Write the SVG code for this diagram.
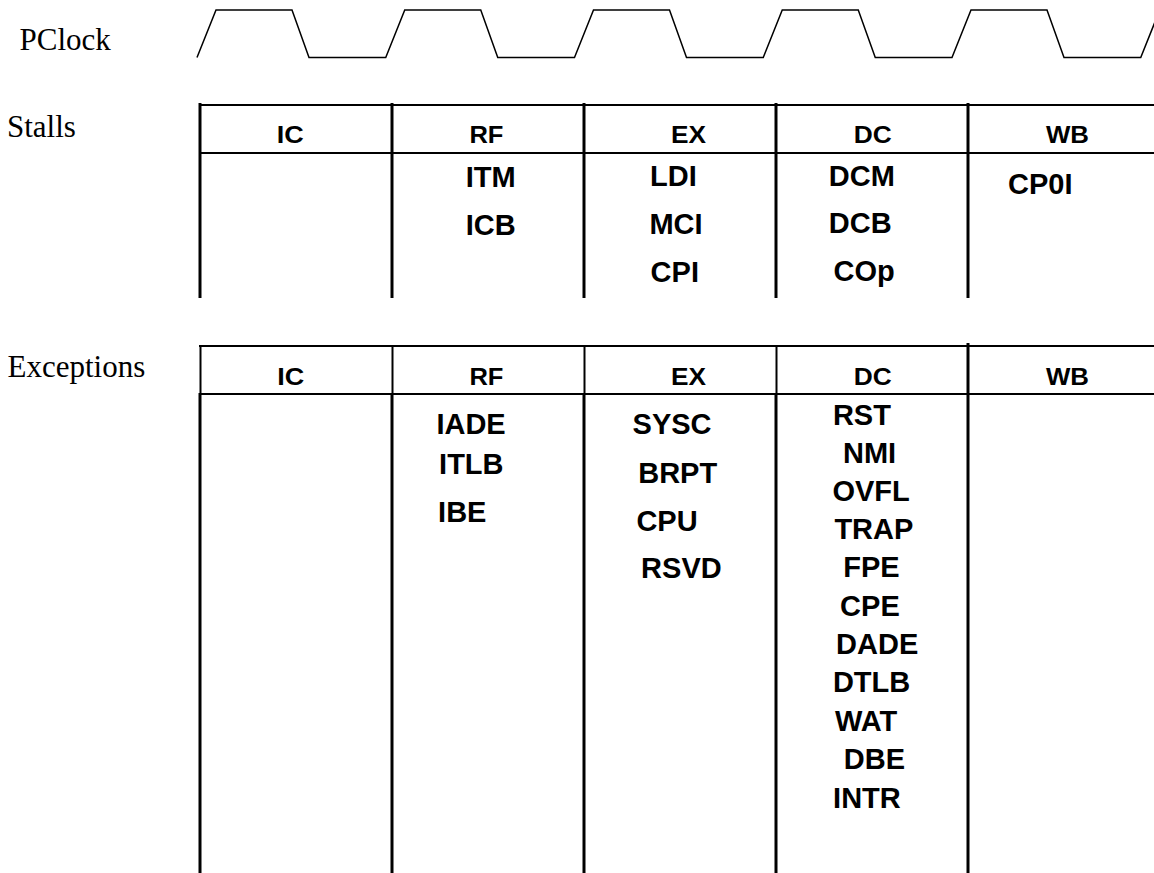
<svg xmlns="http://www.w3.org/2000/svg" width="1154" height="873" viewBox="0 0 1154 873">
<style>
  .lbl { font-family: "Liberation Serif", "Times New Roman", serif; font-size: 31px; fill: #000; }
  .hdr { font-family: "Liberation Sans", Arial, sans-serif; font-weight: bold; font-size: 24px; fill: #000; text-anchor: middle; }
  .item { font-family: "Liberation Sans", Arial, sans-serif; font-weight: bold; font-size: 29px; fill: #000; }
  .clk { fill: none; stroke: #000; stroke-width: 1.5; stroke-linejoin: miter; }
  .hl { stroke: #000; stroke-width: 2; }
  .vl { stroke: #000; stroke-width: 3; }
  .vh { stroke: #000; stroke-width: 2; }
</style>
<rect width="1154" height="873" fill="#fff"/>

<g id="labels">
  <text class="lbl" x="19.5" y="50">PClock</text>
  <text class="lbl" x="7" y="137.3">Stalls</text>
  <text class="lbl" x="7.5" y="377.3">Exceptions</text>
</g>

<g id="pclock">
  <polyline class="clk" points="197,57.5 216,10 292,10 309,57.5 385.75,57.5 404.75,10 480.75,10 497.75,57.5 574.5,57.5 593.5,10 669.5,10 686.5,57.5 763.25,57.5 782.25,10 858.25,10 875.25,57.5 952,57.5 971,10 1047,10 1064,57.5 1140.75,57.5 1159.75,10"/>
</g>

<g id="stalls-table">
  <line class="hl" x1="199" y1="105" x2="1154" y2="105"/>
  <line class="hl" x1="199" y1="153" x2="1154" y2="153"/>
  <line class="vl" x1="200" y1="103" x2="200" y2="298"/>
  <line class="vl" x1="392" y1="103" x2="392" y2="298"/>
  <line class="vl" x1="584" y1="103" x2="584" y2="298"/>
  <line class="vl" x1="776" y1="103" x2="776" y2="298"/>
  <line class="vl" x1="968" y1="103" x2="968" y2="298"/>
  <text class="hdr" x="290.3" y="143.3" textLength="27" lengthAdjust="spacingAndGlyphs">IC</text>
  <text class="hdr" x="486.4" y="143.3" textLength="34" lengthAdjust="spacingAndGlyphs">RF</text>
  <text class="hdr" x="688.5" y="143.3" textLength="35" lengthAdjust="spacingAndGlyphs">EX</text>
  <text class="hdr" x="872.8" y="143.3" textLength="38" lengthAdjust="spacingAndGlyphs">DC</text>
  <text class="hdr" x="1067.4" y="143.3" textLength="43" lengthAdjust="spacingAndGlyphs">WB</text>
</g>

<g id="stalls-RF">
  <text class="item" x="465.8" y="186.7">ITM</text>
  <text class="item" x="465.8" y="235">ICB</text>
</g>
<g id="stalls-EX">
  <text class="item" x="650" y="185.7">LDI</text>
  <text class="item" x="649.4" y="234.3">MCI</text>
  <text class="item" x="650.6" y="282.3">CPI</text>
</g>
<g id="stalls-DC">
  <text class="item" x="828.8" y="185.7">DCM</text>
  <text class="item" x="828.8" y="232.7">DCB</text>
  <text class="item" x="833.6" y="280.5">COp</text>
</g>
<g id="stalls-WB">
  <text class="item" x="1008" y="194.3">CP0I</text>
</g>

<g id="exceptions-table">
  <line class="hl" x1="199" y1="346" x2="1154" y2="346"/>
  <line class="hl" x1="199" y1="394" x2="1154" y2="394"/>
  <line class="vh" x1="200.5" y1="345" x2="200.5" y2="394"/>
  <line class="vh" x1="392.5" y1="345" x2="392.5" y2="394"/>
  <line class="vh" x1="584.5" y1="345" x2="584.5" y2="394"/>
  <line class="vh" x1="776.5" y1="345" x2="776.5" y2="394"/>
  <line class="vl" x1="968" y1="343" x2="968" y2="394"/>
  <line class="vl" x1="200" y1="393" x2="200" y2="873"/>
  <line class="vl" x1="392" y1="393" x2="392" y2="873"/>
  <line class="vl" x1="584" y1="393" x2="584" y2="873"/>
  <line class="vl" x1="776" y1="393" x2="776" y2="873"/>
  <line class="vl" x1="968" y1="393" x2="968" y2="873"/>
  <text class="hdr" x="290.8" y="385" textLength="27" lengthAdjust="spacingAndGlyphs">IC</text>
  <text class="hdr" x="486.4" y="385" textLength="34" lengthAdjust="spacingAndGlyphs">RF</text>
  <text class="hdr" x="688.5" y="385" textLength="35" lengthAdjust="spacingAndGlyphs">EX</text>
  <text class="hdr" x="872.8" y="385" textLength="38" lengthAdjust="spacingAndGlyphs">DC</text>
  <text class="hdr" x="1067.4" y="385" textLength="43" lengthAdjust="spacingAndGlyphs">WB</text>
</g>

<g id="exceptions-RF">
  <text class="item" x="436.4" y="434.3">IADE</text>
  <text class="item" x="439.1" y="474">ITLB</text>
  <text class="item" x="438.1" y="521.7">IBE</text>
</g>
<g id="exceptions-EX">
  <text class="item" x="632.6" y="434">SYSC</text>
  <text class="item" x="638.2" y="482.7">BRPT</text>
  <text class="item" x="636.4" y="530.7">CPU</text>
  <text class="item" x="641.1" y="577.7">RSVD</text>
</g>
<g id="exceptions-DC">
  <text class="item" x="832.9" y="425">RST</text>
  <text class="item" x="843" y="462.7">NMI</text>
  <text class="item" x="832.4" y="501">OVFL</text>
  <text class="item" x="834.4" y="539.3">TRAP</text>
  <text class="item" x="843.2" y="576.7">FPE</text>
  <text class="item" x="840.1" y="616">CPE</text>
  <text class="item" x="836.1" y="654">DADE</text>
  <text class="item" x="832.9" y="692.3">DTLB</text>
  <text class="item" x="834.9" y="730.7">WAT</text>
  <text class="item" x="843.8" y="769">DBE</text>
  <text class="item" x="833.1" y="808.3">INTR</text>
</g>
</svg>
